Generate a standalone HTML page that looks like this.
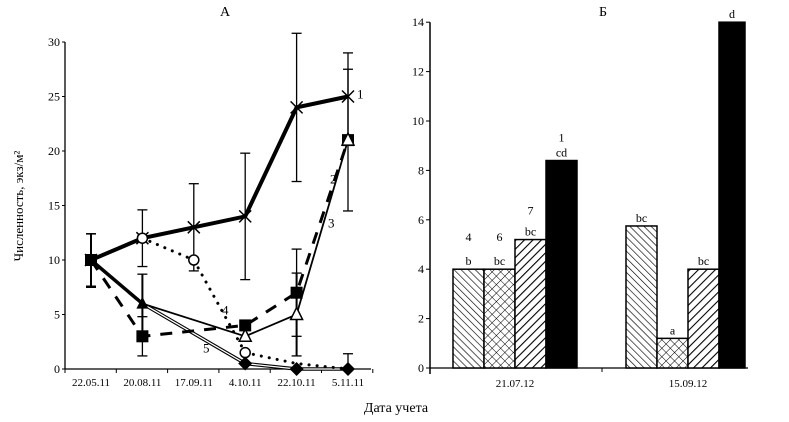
<!DOCTYPE html>
<html><head><meta charset="utf-8"><style>
body{margin:0;background:#fff}
svg{font-family:"Liberation Serif",serif;}
</style></head><body>
<svg width="789" height="417" viewBox="0 0 789 417">
<defs>
<pattern id="p4" width="5" height="5" patternUnits="userSpaceOnUse" patternTransform="rotate(-45)"><rect width="5" height="5" fill="#fff"/><line x1="0" y1="0" x2="0" y2="5" stroke="#000" stroke-width="1.3"/></pattern>
<pattern id="p6" width="6" height="6" patternUnits="userSpaceOnUse" patternTransform="rotate(45)"><rect width="6" height="6" fill="#fff"/><line x1="0" y1="0" x2="0" y2="6" stroke="#000" stroke-width="1"/><line x1="0" y1="0" x2="6" y2="0" stroke="#000" stroke-width="1"/></pattern>
<pattern id="p7" width="6" height="6" patternUnits="userSpaceOnUse" patternTransform="rotate(45)"><rect width="6" height="6" fill="#fff"/><line x1="0" y1="0" x2="0" y2="6" stroke="#000" stroke-width="2.2"/></pattern>
</defs>
<g id="left"></g>
<g id="right"></g>
<text x="225" y="16" font-size="14" text-anchor="middle">А</text>
<text x="603" y="16" font-size="14" text-anchor="middle">Б</text>
<text x="396" y="412" font-size="14" text-anchor="middle">Дата учета</text>
<text transform="translate(23,206) rotate(-90)" font-size="13" text-anchor="middle">Численность, экз/м²</text>
</svg>
<script>
const datesA=["22.05.11","20.08.11","17.09.11","4.10.11","22.10.11","5.11.11"];
const yTicksA=[0,5,10,15,20,25,30];
const s1=[10,12,13,14,24,25];
const s1err=[2.4,2.6,4,5.8,6.8,4];
const s2=[10,3,null,4,7,21];
const s2err=[0,1.8,0,0,4,6.5];
const s3=[10,6,null,3,5,21];
const s3err=[0,2.7,0,0,3.8,0];
const s4=[null,12,10,1.5,0.5,0];
const s5=[10,6,null,0.5,0,0];
const s5err=[0,0,0,0,0,1.4];
const groupsB=["21.07.12","15.09.12"];
const yTicksB=[0,2,4,6,8,10,12,14];
const barVals=[[4,4,5.2,8.4],[5.75,1.2,4,14]];
const barLetters=[["b","bc","bc","cd"],["bc","a","bc","d"]];
const seriesNums=["4","6","7","1"];
const NS="http://www.w3.org/2000/svg";
function mk(p,t,a){const e=document.createElementNS(NS,t);for(const k in a)e.setAttribute(k,a[k]);p.appendChild(e);return e;}
const L=document.getElementById('left');
const xA=i=>91+i*51.4, yA=v=>369-v*10.9;
let e=mk(L,'line',{x1:65,y1:yA(30),x2:65,y2:369,stroke:'#000','stroke-width':1.3});

e=mk(L,'line',{x1:65,y1:369,x2:371,y2:369,stroke:'#000','stroke-width':1.3});

yTicksA.forEach(v=>{mk(L,'line',{x1:62,x2:65,y1:yA(v),y2:yA(v),stroke:'#000'});
 e=mk(L,'text',{x:60,y:yA(v)+4,'font-size':12,'text-anchor':'end'});e.textContent=v;
 });
for(let i=0;i<=6;i++){const x=65+i*51.3;mk(L,'line',{x1:x,x2:x,y1:369,y2:373,stroke:'#000'});}
datesA.forEach((d,i)=>{e=mk(L,'text',{x:xA(i),y:386,'font-size':11,'text-anchor':'middle'});e.textContent=d;
 });
function path(vals,attrs,name){let d='';vals.forEach((v,i)=>{if(v==null)return;d+=(d?'L':'M')+xA(i)+','+yA(v);});
 const p=mk(L,'path',Object.assign({d:d,fill:'none',stroke:'#000'},attrs));
 return p;}
function errs(vals,err,w){vals.forEach((v,i)=>{if(v==null||!err[i])return;const x=xA(i);
 mk(L,'line',{x1:x,x2:x,y1:yA(v+err[i]),y2:yA(Math.max(0,v-err[i])),stroke:'#000','stroke-width':w});
 [v+err[i],Math.max(0,v-err[i])].forEach(t=>mk(L,'line',{x1:x-5,x2:x+5,y1:yA(t),y2:yA(t),stroke:'#000','stroke-width':1.3}));});}
errs(s1,s1err,1.3);errs(s2,s2err,1.3);errs(s3,s3err,2);errs(s5,s5err,1.3);
mk(L,'line',{x1:xA(0),x2:xA(0),y1:yA(12.4),y2:yA(7.5),stroke:'#000','stroke-width':2});
[12.4,7.5].forEach(t=>mk(L,'line',{x1:xA(0)-5,x2:xA(0)+5,y1:yA(t),y2:yA(t),stroke:'#000','stroke-width':1.5}));
path(s5,{'stroke-width':3.5},'series-5-line');path(s5,{'stroke-width':1.3,stroke:'#fff'},'series-5-inner');
path(s4,{'stroke-width':3,'stroke-dasharray':'0.1 8','stroke-linecap':'round'},'series-4-line');
path(s3,{'stroke-width':1.8},'series-3-line');
path(s2,{'stroke-width':3,'stroke-dasharray':'12 10'},'series-2-line');
path(s1,{'stroke-width':4},'series-1-line');
s1.forEach((v,i)=>{const x=xA(i),y=yA(v);mk(L,'path',{d:`M${x-6},${y-6}L${x+6},${y+6}M${x-6},${y+6}L${x+6},${y-6}`,stroke:'#000','stroke-width':1.5});});
s2.forEach((v,i)=>{if(v==null)return;e=mk(L,'rect',{x:xA(i)-6,y:yA(v)-6,width:12,height:12,fill:'#000'});
 });
s3.forEach((v,i)=>{if(v==null||i<3)return;const x=xA(i),y=yA(v);mk(L,'path',{d:`M${x},${y-7}L${x+6},${y+5}L${x-6},${y+5}Z`,fill:'#fff',stroke:'#000','stroke-width':1.5});});
mk(L,'path',{d:`M${xA(1)},${yA(6)-7}L${xA(1)+6},${yA(6)+5}L${xA(1)-6},${yA(6)+5}Z`,fill:'#000'});
s4.forEach((v,i)=>{if(v==null||i>3)return;mk(L,'circle',{cx:xA(i),cy:yA(v),r:5,fill:'#fff',stroke:'#000','stroke-width':1.5});});
s5.forEach((v,i)=>{if(v==null||i<3)return;const x=xA(i),y=yA(v);mk(L,'path',{d:`M${x},${y-7}L${x+7},${y}L${x},${y+7}L${x-7},${y}Z`,fill:'#000'});});
[["1",xA(5)+9,yA(25)+2],["2",330,yA(17)],["3",328,yA(13)],["4",222,yA(5)],["5",203,yA(1.5)]].forEach(a=>{
 e=mk(L,'text',{x:a[1],y:a[2],'font-size':13});e.textContent=a[0];});
// right
const R=document.getElementById('right');
const yB=v=>368-v*24.7;
e=mk(R,'line',{x1:430,y1:yB(14),x2:430,y2:374,stroke:'#000','stroke-width':1.5});

e=mk(R,'line',{x1:430,y1:368,x2:748,y2:368,stroke:'#000','stroke-width':1.3});

mk(R,'line',{x1:602,x2:602,y1:368,y2:372,stroke:'#000'});
yTicksB.forEach(v=>{mk(R,'line',{x1:426,x2:430,y1:yB(v),y2:yB(v),stroke:'#000'});
 e=mk(R,'text',{x:424,y:yB(v)+4,'font-size':12,'text-anchor':'end'});e.textContent=v;
 });
const fills=['url(#p4)','url(#p6)','url(#p7)','#000'];
const gx=[453,626];
groupsB.forEach((g,gi)=>{e=mk(R,'text',{x:gx[gi]+62,y:387,'font-size':11,'text-anchor':'middle'});e.textContent=g;
 
 barVals[gi].forEach((v,bi)=>{const x=gx[gi]+bi*31,w=bi==3&&gi==1?26:31;
  e=mk(R,'rect',{x:x,y:yB(v),width:w,height:368-yB(v),fill:fills[bi],stroke:'#000','stroke-width':1.5});
  
  e=mk(R,'text',{x:x+w/2,y:yB(v)-4,'font-size':12,'text-anchor':'middle'});e.textContent=barLetters[gi][bi];
  
  if(gi==0){e=mk(R,'text',{x:x+w/2,y:yB(v)-(bi==3?19:bi==2?25:28),'font-size':12,'text-anchor':'middle'});e.textContent=seriesNums[bi];
   }
 });});
</script>
</body></html>
